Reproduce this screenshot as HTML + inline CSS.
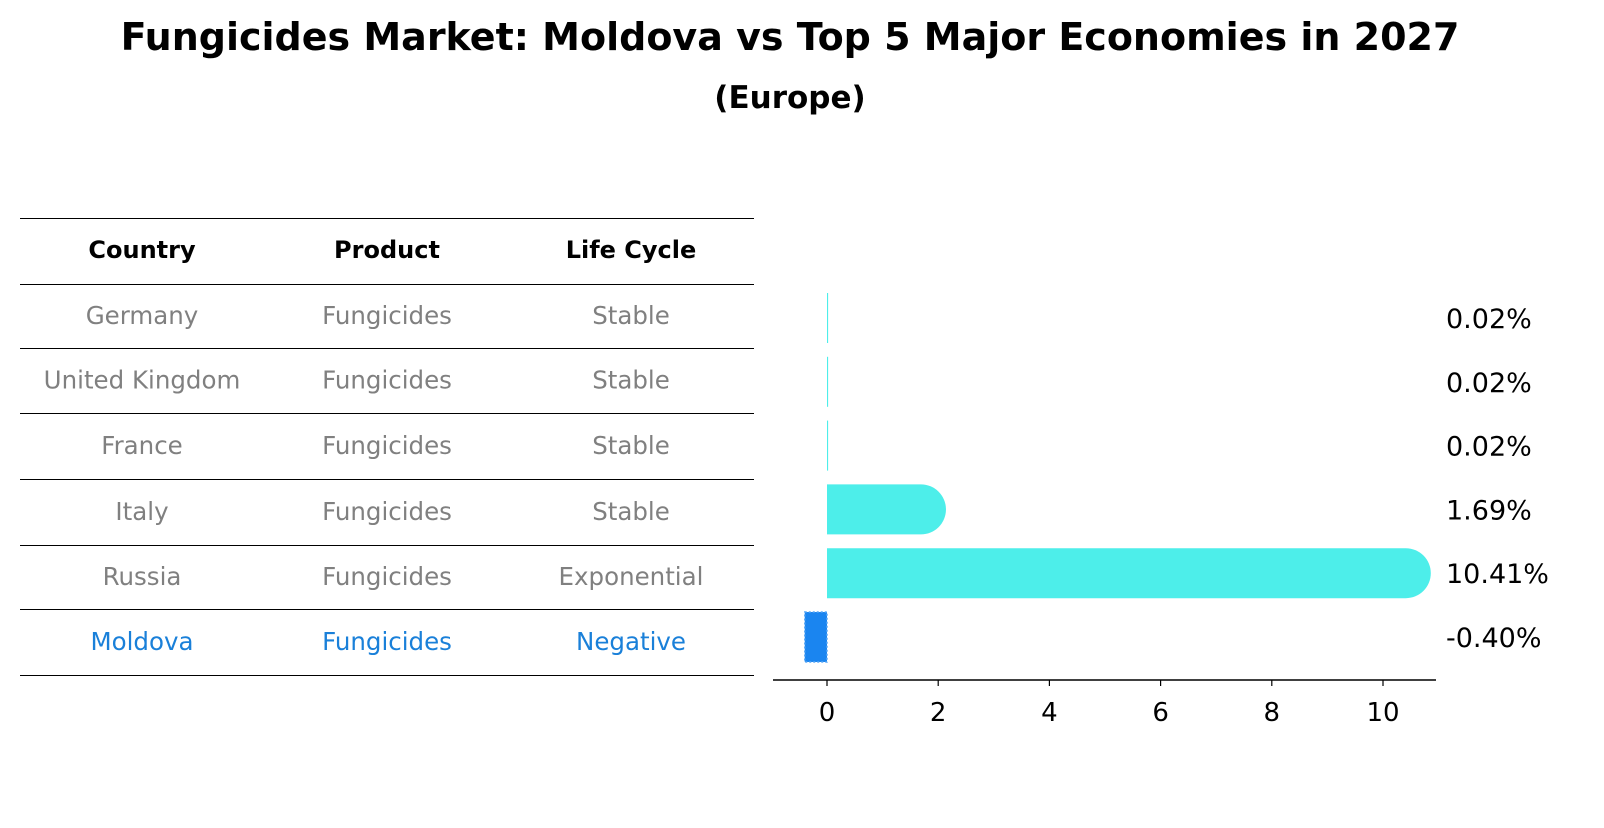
<!DOCTYPE html>
<html><head><meta charset="utf-8"><style>
body{margin:0;background:#fff;font-family:"Liberation Sans","DejaVu Sans",sans-serif}
</style></head><body>
<svg width="1604" height="823" xmlns="http://www.w3.org/2000/svg" font-family="DejaVu Sans, Liberation Sans, sans-serif">
<text x="790" y="50" text-anchor="middle" font-size="38" font-weight="bold">Fungicides Market: Moldova vs Top 5 Major Economies in 2027</text>
<text x="790" y="108" text-anchor="middle" font-size="31" font-weight="bold">(Europe)</text>
<g id="table"></g>
<g id="bars"></g>
</svg>
<script>
const countries=["Germany","United Kingdom","France","Italy","Russia","Moldova"];
const products=["Fungicides","Fungicides","Fungicides","Fungicides","Fungicides","Fungicides"];
const lifeCycles=["Stable","Stable","Stable","Stable","Exponential","Negative"];
const values=[0.02,0.02,0.02,1.69,10.41,-0.40];
const valueLabels=["0.02%","0.02%","0.02%","1.69%","10.41%","-0.40%"];
const xTicks=[0,2,4,6,8,10];
const NS="http://www.w3.org/2000/svg";
function mk(tag,attrs,parent,text){const e=document.createElementNS(NS,tag);for(const k in attrs)e.setAttribute(k,attrs[k]);if(text!==undefined)e.textContent=text;parent.appendChild(e);return e;}
const tbl=document.getElementById('table');
const lineYs=[218,284,348,413,479,545,609,675];
lineYs.forEach(y=>{const l=mk('line',{x1:20,x2:754,y1:y+0.5,y2:y+0.5,stroke:'#000','stroke-width':1},tbl);

});
const colX=[142,387,631];
["Country","Product","Life Cycle"].forEach((h,i)=>{const t=mk('text',{x:colX[i],y:258,'text-anchor':'middle','font-size':24,'font-weight':'bold'},tbl,h);

});
countries.forEach((c,r)=>{const y=(lineYs[r+1]+lineYs[r+2])/2+8;const col=r===5?'#1a80d9':'#808080';
[c,products[r],lifeCycles[r]].forEach((v,i)=>{const t=mk('text',{x:colX[i],y:y,'text-anchor':'middle','font-size':24.5,fill:col},tbl,v);

});});
const g=document.getElementById('bars');
const x0=827,scale=55.6;const X=v=>x0+v*scale;
const rowY=r=>318+r*63.8;const bh=50;
values.forEach((v,r)=>{const cy=rowY(r);let e;
if(v<0){e=mk('rect',{x:X(v),y:cy-bh/2,width:X(0)-X(v),height:bh,fill:'#1a85f0',stroke:'#5aa8f5','stroke-width':1.5,'stroke-dasharray':'2 2'},g);}
else{const w=X(v)-X(0);
if(w<3){e=mk('rect',{x:X(0),y:cy-bh/2,width:Math.max(w,1),height:bh,fill:'#4deeea'},g);}
else{const r2=bh/2;e=mk('path',{d:`M${X(0)},${cy-r2} H${X(v)} A${r2},${r2} 0 0 1 ${X(v)},${cy+r2} H${X(0)} Z`,fill:'#4deeea'},g);}}


const t=mk('text',{x:1446,y:cy+10,'font-size':27},g,valueLabels[r]);

});
const ax=mk('line',{x1:773,x2:1436,y1:680,y2:680,stroke:'#000','stroke-width':1.5},g);


xTicks.forEach(v=>{const l=mk('line',{x1:X(v),x2:X(v),y1:680,y2:686,stroke:'#000','stroke-width':1.2},g);


const t=mk('text',{x:X(v),y:721,'text-anchor':'middle','font-size':26},g,String(v));

});
</script>
</body></html>
